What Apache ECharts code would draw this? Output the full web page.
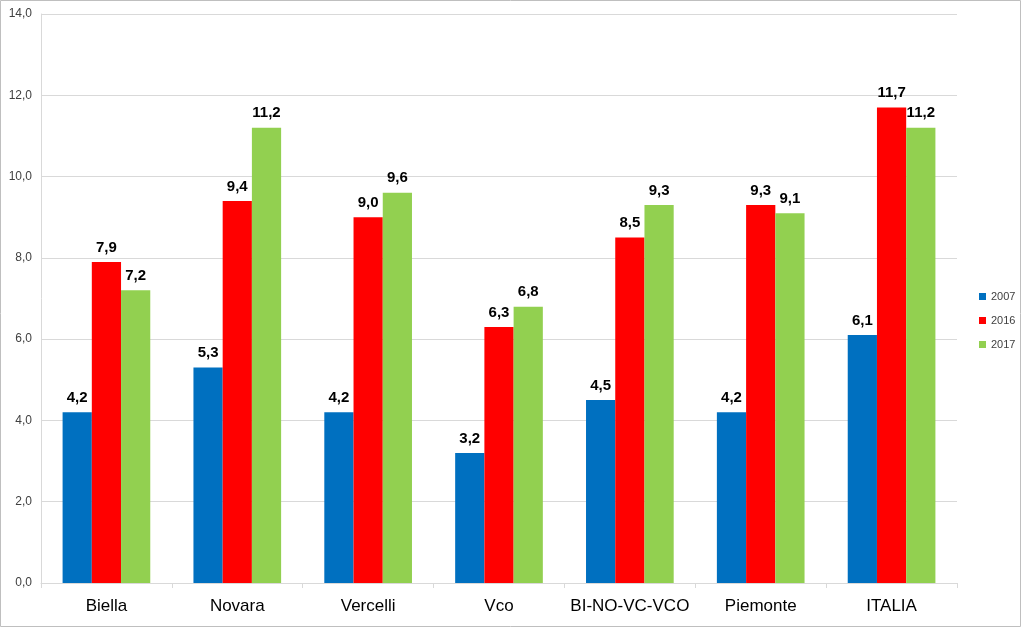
<!DOCTYPE html>
<html><head><meta charset="utf-8">
<script src="https://cdn.jsdelivr.net/npm/echarts@6/dist/echarts.min.js"></script>
<style>html,body{margin:0;padding:0;background:#fff}#c{width:1023px;height:629px}</style>
</head><body><div id="c"></div>
<script>
const categories = ['Biella','Novara','Vercelli','Vco','BI-NO-VC-VCO','Piemonte','ITALIA'];
const seriesNames = ['2007','2016','2017'];
const v2007 = [4.2,5.3,4.2,3.2,4.5,4.2,6.1];
const v2016 = [7.9,9.4,9.0,6.3,8.5,9.3,11.7];
const v2017 = [7.2,11.2,9.6,6.8,9.3,9.1,11.2];
const colors = ['#0070C0','#FF0000','#92D050'];
const fmt = v => v.toFixed(1).replace('.', ',');
const font = 'Liberation Sans, Arial, sans-serif';
const chart = echarts.init(document.getElementById('c'));
const mk = (name, data, color) => ({
  name, type:'bar', data, barGap:'0%', barCategoryGap:'33%',
  itemStyle:{color},
  label:{show:true, position:'top', distance:7, formatter:p=>fmt(p.value),
    fontFamily:font, fontSize:15, fontWeight:'bold', color:'#000'}
});
chart.setOption({
  animation:false,
  textStyle:{fontFamily:font},
  grid:{left:41, right:66, top:14, bottom:46, containLabel:false},
  legend:{orient:'vertical', left:974, top:286, itemWidth:7, itemHeight:7, itemGap:13,
    icon:'rect', textStyle:{fontSize:11, color:'#404040', fontFamily:font}, data:seriesNames},
  xAxis:{type:'category', data:categories,
    axisLine:{lineStyle:{color:'#d9d9d9'}},
    axisTick:{show:true, length:5, interval:0, lineStyle:{color:'#d9d9d9'}},
    axisLabel:{fontSize:17, color:'#000', margin:15, interval:0, fontFamily:font}},
  yAxis:{type:'value', min:0, max:14, interval:2,
    axisLine:{show:true, lineStyle:{color:'#d9d9d9'}},
    axisTick:{show:false},
    splitLine:{lineStyle:{color:'#d9d9d9'}},
    axisLabel:{formatter:v=>fmt(v), fontSize:12, color:'#404040', margin:9, fontFamily:font}},
  graphic:[{type:'rect', shape:{x:0.5,y:0.5,width:1020,height:626}, style:{fill:null, stroke:'#bfbfbf', lineWidth:1}, silent:true}],
  series:[mk(seriesNames[0], v2007, colors[0]), mk(seriesNames[1], v2016, colors[1]), mk(seriesNames[2], v2017, colors[2])]
});
</script></body></html>
